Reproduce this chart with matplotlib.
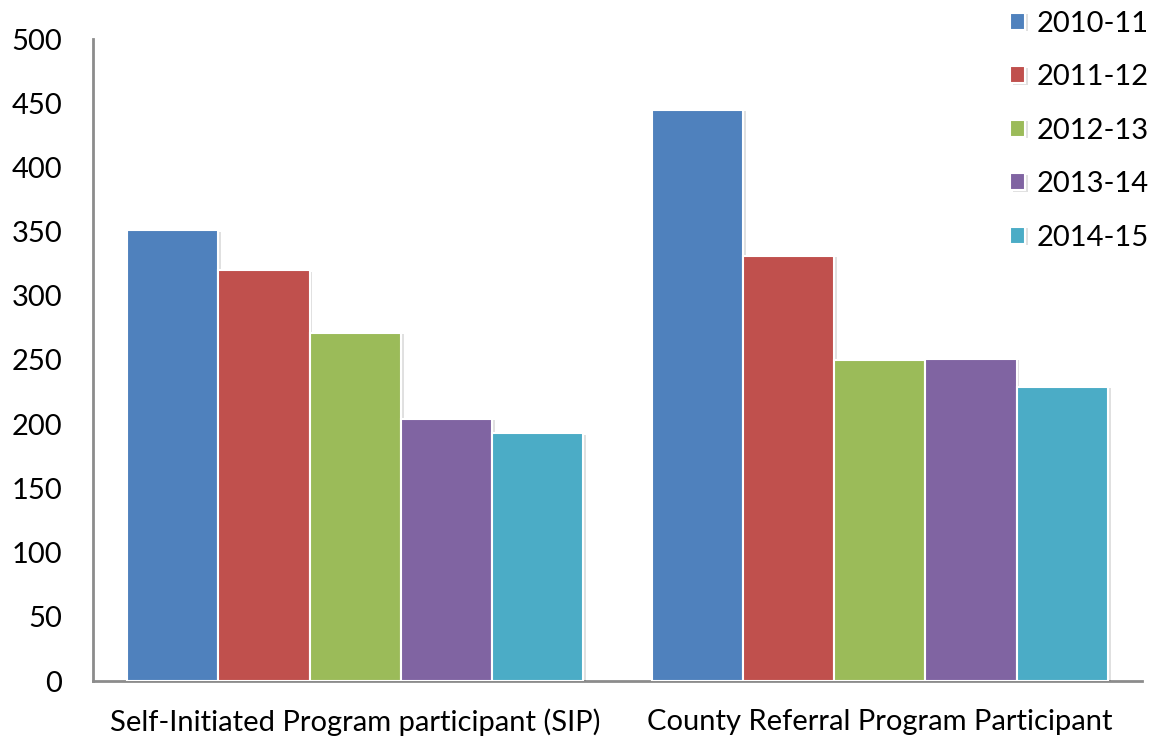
import matplotlib
matplotlib.use("Agg")
import matplotlib.pyplot as plt
import matplotlib.patheffects as pe
import numpy as np

plt.rcParams['font.family'] = ['Lato', 'DejaVu Sans']

categories = ["Self-Initiated Program participant (SIP)", "County Referral Program Participant"]
series = ["2010-11", "2011-12", "2012-13", "2013-14", "2014-15"]
values = {
    "2010-11": [351, 445],
    "2011-12": [320, 331],
    "2012-13": [271, 250],
    "2013-14": [204, 251],
    "2014-15": [193, 229],
}
colors = ["#4F81BD", "#C0504D", "#9BBB59", "#8064A2", "#4BACC6"]
yticks = [0, 50, 100, 150, 200, 250, 300, 350, 400, 450, 500]

fig = plt.figure(figsize=(11.56, 7.41), dpi=100)
ax = fig.add_axes([93/1156, 60/741, (1142-93)/1156, (681-39)/741])

x = np.arange(len(categories))
bw = 0.174
n = len(series)
for i, (s, c) in enumerate(zip(series, colors)):
    offs = (i - (n - 1) / 2) * bw
    bars = ax.bar(x + offs, values[s], width=bw, color=c, edgecolor="white",
                  linewidth=1.5, label=s, zorder=3)
    for b in bars:
        b.set_path_effects([pe.SimplePatchShadow(offset=(2, -1), shadow_rgbFace="#000000", alpha=0.12),
                            pe.Normal()])

ax.set_xlim(-0.5, 1.5)
ax.set_ylim(0, 500)
ax.set_yticks(yticks)
ax.set_xticks(x)
ax.set_xticklabels(categories)
ax.tick_params(axis="both", length=0, labelsize=21)
ax.tick_params(axis="y", pad=22)
ax.tick_params(axis="x", pad=20)
for side in ["top", "right"]:
    ax.spines[side].set_visible(False)
for side in ["left", "bottom"]:
    ax.spines[side].set_color("#8C8C8C")
    ax.spines[side].set_linewidth(2)

leg = ax.legend(loc="upper left", bbox_to_anchor=(1004/1156, (741-5)/741), bbox_transform=fig.transFigure,
                frameon=False, fontsize=21, handlelength=0.52, handleheight=0.52,
                handletextpad=0.4, labelspacing=0.94, borderpad=0.2, borderaxespad=0)

fig.savefig("out.png", dpi=100)
